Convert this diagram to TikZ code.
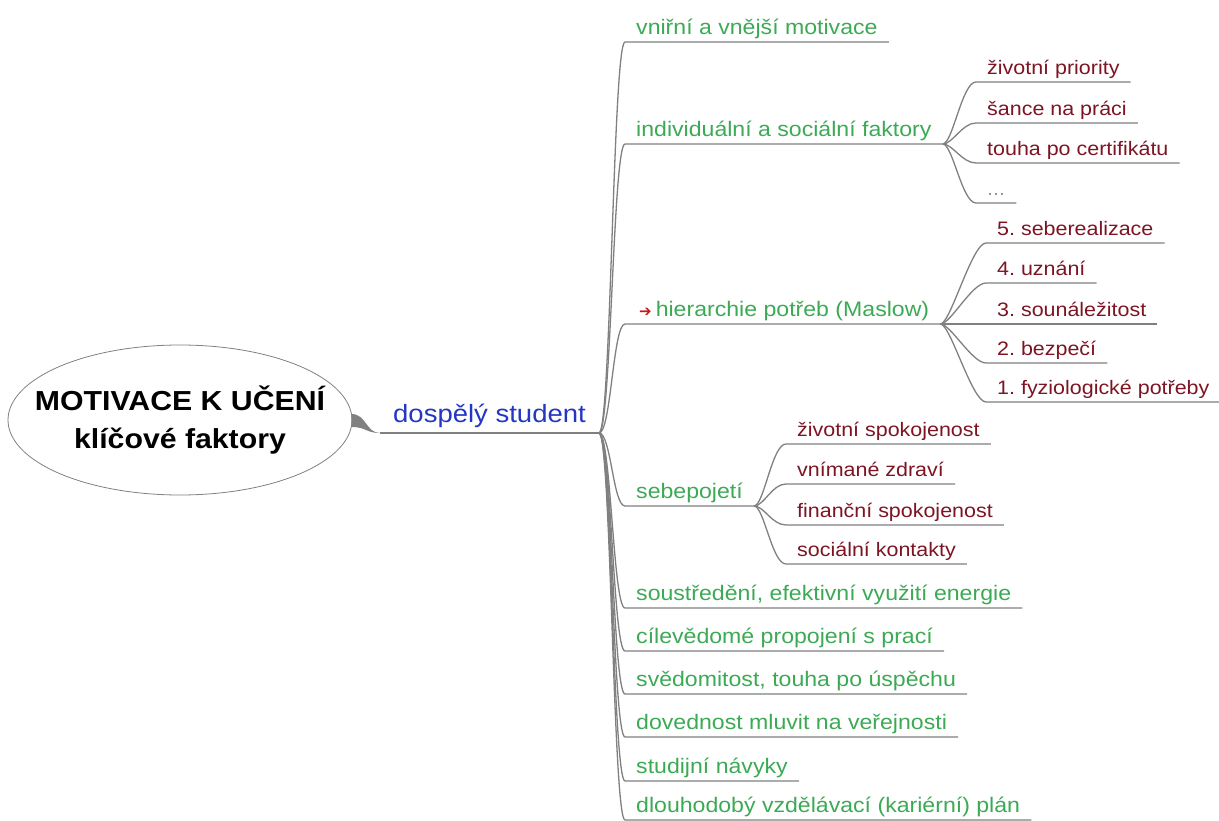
\documentclass[tikz,border=0pt]{standalone}
\usepackage{fontspec}
\setmainfont{Liberation Sans}[FakeStretch=1.1]
\newfontfamily\arrowfont{DejaVu Sans}
\usetikzlibrary{positioning,calc,shapes.geometric}
\frenchspacing

\definecolor{itemgreen}{RGB}{60,170,85}
\definecolor{subred}{RGB}{125,20,35}
\definecolor{studentblue}{RGB}{35,55,195}
\definecolor{edgegray}{RGB}{128,128,128}
\definecolor{arrowred}{RGB}{205,20,20}

\begin{document}
\begin{tikzpicture}[
  x=1pt, y=-1pt,
  rootnode/.style={ellipse, draw=edgegray, line width=0.8pt, fill=white, align=center,
                   minimum width=344pt, minimum height=150pt, inner xsep=-40pt, inner ysep=-10pt,
                   font=\fontsize{27.5}{38}\selectfont\bfseries},
  item/.style={anchor=south west, inner xsep=11pt, inner ysep=2pt, text height=15pt,
               text depth=5pt, text=itemgreen, font=\fontsize{21}{25}\selectfont},
  subitem/.style={item, text=subred, text height=14pt, font=\fontsize{19.5}{24}\selectfont},
  branch/.style={draw=edgegray, line width=1.3pt}
]
\useasboundingbox (0,0) rectangle (1219,821);
% ----- root and first level -----
\node[rootnode] (root) at (180,420) {MOTIVACE K UČENÍ\\klíčové faktory};
\node[anchor=south west, inner xsep=13pt, inner ysep=3pt, text depth=7pt, text=studentblue,
      font=\fontsize{25}{30}\selectfont] (student) at (380,433) {dospělý student};
\fill[edgegray] ($(root.east)+(-1,-6)$) .. controls +(15,0) and +(-14,0) .. (student.south west)
  .. controls +(-14,0) and +(15,0) .. ($(root.east)+(-1,7)$) -- cycle;
\draw[branch] (student.south west) -- (student.south east);
% ----- factors -----
\node[item] (motiv)     at (625,42)  {vniřní a vnější motivace};
\node[item] (faktory)   at (625,144) {individuální a sociální faktory};
\node[item] (maslow)    at (625,324) {\hspace*{3pt}\textcolor{arrowred}{\arrowfont\fontsize{15}{15}\selectfont ➔}\hspace{4pt}hierarchie potřeb (Maslow)};
\node[item] (sebe)      at (625,506) {sebepojetí};
\node[item] (energie)   at (625,608) {soustředění, efektivní využití energie};
\node[item] (prace)     at (625,651) {cílevědomé propojení s prací};
\node[item] (uspech)    at (625,694) {svědomitost, touha po úspěchu};
\node[item] (verejnost) at (625,737) {dovednost mluvit na veřejnosti};
\node[item] (navyky)    at (625,781) {studijní návyky};
\node[item] (plan)      at (625,820) {dlouhodobý vzdělávací (kariérní) plán};
\foreach \n in {motiv,faktory,maslow,sebe,energie,prace,uspech,verejnost,navyky,plan}{
  \draw[branch] (student.south east) .. controls +(12,0) and +(-12,0) .. (\n.south west) -- (\n.south east);}
% ----- individual and social factors -----
\node[subitem] (priority)   at (976,82)  {životní priority};
\node[subitem] (sance)      at (976,123) {šance na práci};
\node[subitem] (certifikat) at (976,163) {touha po certifikátu};
\node[subitem, text=edgegray!80] (dalsi) at (976,203) {...};
% ----- Maslow -----
\node[subitem] (seberealizace) at (986,243) {5. seberealizace};
\node[subitem] (uznani)        at (986,283) {4. uznání};
\node[subitem] (sounalezitost) at (986,324) {3. sounáležitost};
\node[subitem] (bezpeci)       at (986,363) {2. bezpečí};
\node[subitem] (fyziologicke)  at (986,402) {1. fyziologické potřeby};
% ----- self-concept -----
\node[subitem] (zivotni)  at (786,444) {životní spokojenost};
\node[subitem] (zdravi)   at (786,484) {vnímané zdraví};
\node[subitem] (financni) at (786,525) {finanční spokojenost};
\node[subitem] (kontakty) at (786,564) {sociální kontakty};
\foreach \p/\c in {faktory/priority, faktory/sance, faktory/certifikat, faktory/dalsi,
                   maslow/seberealizace, maslow/uznani, maslow/sounalezitost, maslow/bezpeci, maslow/fyziologicke,
                   sebe/zivotni, sebe/zdravi, sebe/financni, sebe/kontakty}{
  \draw[branch] (\p.south east) .. controls +(10,0) and +(-14,0) .. (\c.south west) -- (\c.south east);}
\end{tikzpicture}
\end{document}
